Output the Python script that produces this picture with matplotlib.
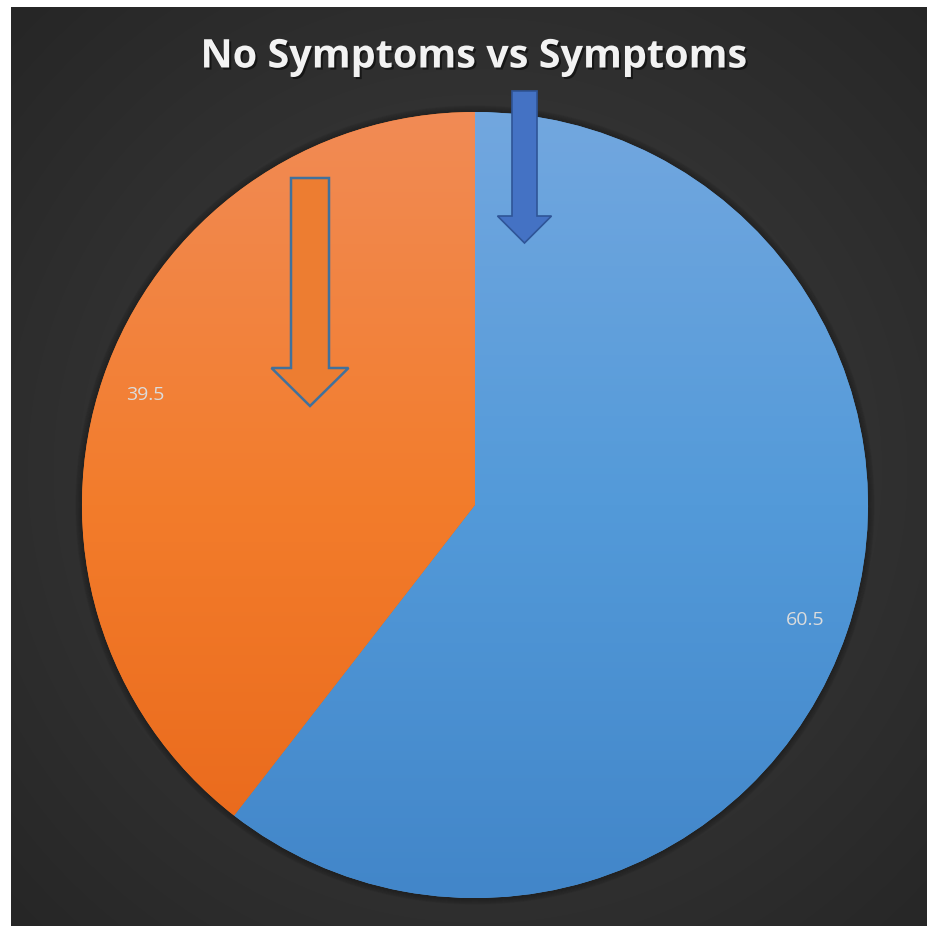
import numpy as np
import matplotlib.pyplot as plt
import matplotlib.patheffects as pe
from matplotlib.patches import FancyArrow
from matplotlib.colors import LinearSegmentedColormap

# ----- data ----- #
categories = ["Symptoms", "No Symptoms"]
values     = [60.5, 39.5]
labels     = ["60.5", "39.5"]
title      = "No Symptoms vs Symptoms"

W, H = 927, 926
fig = plt.figure(figsize=(W / 100, H / 100), dpi=100)
ax = fig.add_axes([0, 0, 1, 1])

# --- dark background with soft radial light --- #
bx0, by0, bx1, by1 = 11, 7, 927, 926
yy, xx = np.mgrid[by0:by1, bx0:bx1]
d = np.sqrt((xx - 480.0) ** 2 + (yy - 470.0) ** 2) / 650.0
shade = 0.25 - 0.10 * np.clip(d, 0, 1)
bg = np.dstack([shade, shade, shade])
ax.imshow(bg, extent=(bx0, bx1, by1, by0), zorder=0, interpolation="bilinear")

# --- pie (y axis is flipped, so angles run the other way) --- #
cx, cy, r = 475, 505, 393
for k in range(6):
    shadow = plt.Circle((cx, cy), r + 6 - k, color="black", alpha=0.035, zorder=1)
    ax.add_patch(shadow)

wedges, _ = ax.pie(values, startangle=-90, counterclock=True, center=(cx, cy),
                   radius=r, colors=["#5599d8", "#f27b2c"],
                   wedgeprops=dict(linewidth=0), frame=True)
ax.set_xlim(0, W)
ax.set_ylim(H, 0)
ax.set_aspect("auto")
ax.axis("off")

grads = [["#72a7df", "#539ad9", "#4286c9"], ["#f18b55", "#f37c2b", "#e8671a"]]
for w, g in zip(wedges, grads):
    w.set_zorder(2)
    cmap = LinearSegmentedColormap.from_list("g", g)
    img = ax.imshow(np.linspace(0, 1, 256).reshape(-1, 1), cmap=cmap, aspect="auto",
                    extent=(cx - r, cx + r, cy + r, cy - r), zorder=3)
    img.set_clip_path(w)

# labels
ax.text(805, 620, labels[0], color="#dcdcdc", fontsize=14, family="Open Sans",
        ha="center", va="center", zorder=5)
ax.text(145, 395, labels[1], color="#dcdcdc", fontsize=14, family="Open Sans",
        ha="center", va="center", zorder=5)

# --- arrows --- #
ax.add_patch(FancyArrow(524.5, 91, 0, 152, width=25, head_width=54, head_length=27,
                        length_includes_head=True, facecolor="#4472c4",
                        edgecolor="#2f5597", linewidth=1.2, zorder=6))
ax.add_patch(FancyArrow(310, 178, 0, 228, width=38, head_width=77, head_length=38,
                        length_includes_head=True, facecolor="#ed7d31",
                        edgecolor="#41719c", linewidth=1.8, zorder=6))

# --- title --- #
ax.text(474, 57, title, color="#f2f2f2", fontsize=28.5, fontweight="bold", family="Open Sans",
        ha="center", va="center", zorder=7,
        path_effects=[pe.withSimplePatchShadow(offset=(1.5, -1.5), shadow_rgbFace="black", alpha=0.5)])

fig.savefig("out.png", dpi=100)
